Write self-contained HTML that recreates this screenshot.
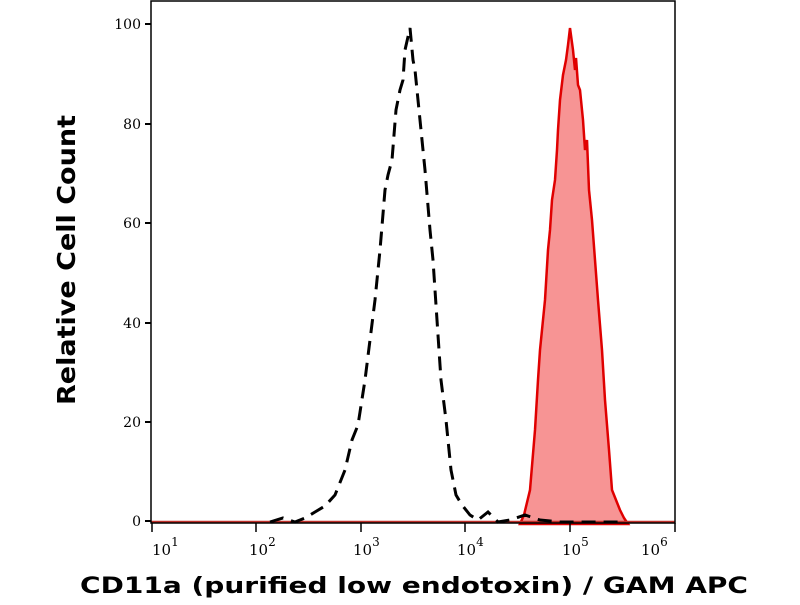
<!DOCTYPE html>
<html><head><style>body{margin:0;background:#fff}</style></head><body>
<svg width="800" height="600" xmlns="http://www.w3.org/2000/svg" font-family="DejaVu Serif, serif">
<rect width="800" height="600" fill="#fff"/>
<polygon points="520,524 524,515 530,490 535,430 538,380 540,350 545,300 548,250 550,230 552,200 555,180 557,150 558,130 560,100 563,75 566,60 568,45 570,28 573,50 575,70 576,58 578,85 580,90 583,120 585,150 587,140 589,190 592,220 595,260 598,300 602,350 605,400 609,450 612,490 616,500 620,510 624,518 628,524" fill="#f79494" stroke="#e00000" stroke-width="2.5"/>
<line x1="151" y1="522" x2="675" y2="522" stroke="#c0302a" stroke-width="2.5"/>
<polyline points="270,522 283,518 295,522 305,518 315,512 325,506 335,495 345,470 352,440 358,425 365,380 370,340 375,300 380,250 385,190 388,175 392,160 396,110 400,90 403,80 405,50 410,28 413,60 415,70 420,120 425,170 430,230 433,260 437,320 441,380 446,420 451,470 456,495 462,505 470,515 478,520 488,512 498,522 510,520 525,515 540,520 560,522 600,522 620,522" fill="none" stroke="#000" stroke-width="3" stroke-dasharray="14,8"/>
<rect x="151" y="1" width="524" height="522" fill="none" stroke="#000" stroke-width="1.5"/>
<g stroke="#000" stroke-width="2">
<line x1="145" y1="24" x2="151" y2="24"/><line x1="145" y1="124" x2="151" y2="124"/><line x1="145" y1="223" x2="151" y2="223"/><line x1="145" y1="323" x2="151" y2="323"/><line x1="145" y1="422" x2="151" y2="422"/><line x1="145" y1="521" x2="151" y2="521"/>
</g>
<g font-size="14" text-anchor="end">
<text x="141" y="29">100</text><text x="141" y="129">80</text><text x="141" y="228">60</text><text x="141" y="328">40</text><text x="141" y="427">20</text><text x="141" y="526">0</text>
</g>
<g stroke="#000" stroke-width="1.5">
<line x1="152" y1="523" x2="152" y2="532"/><line x1="256" y1="523" x2="256" y2="532"/><line x1="361" y1="523" x2="361" y2="532"/><line x1="465" y1="523" x2="465" y2="532"/><line x1="570" y1="523" x2="570" y2="532"/><line x1="675" y1="523" x2="675" y2="532"/>
</g>
<g id="minor" stroke="#000" stroke-width="1"></g>
<g font-size="15">
<text x="152" y="555">10<tspan dy="-9" font-size="12">1</tspan></text>
<text x="249" y="555">10<tspan dy="-9" font-size="12">2</tspan></text>
<text x="353" y="555">10<tspan dy="-9" font-size="12">3</tspan></text>
<text x="457" y="555">10<tspan dy="-9" font-size="12">4</tspan></text>
<text x="562" y="555">10<tspan dy="-9" font-size="12">5</tspan></text>
<text x="641" y="555">10<tspan dy="-9" font-size="12">6</tspan></text>
</g>
<text x="414" y="593" font-family="DejaVu Sans, sans-serif" font-weight="bold" font-size="22" text-anchor="middle" textLength="668" lengthAdjust="spacingAndGlyphs">CD11a (purified low endotoxin) / GAM APC</text>
<text transform="translate(75,260) rotate(-90)" font-family="DejaVu Sans, sans-serif" font-weight="bold" font-size="25" text-anchor="middle" textLength="290" lengthAdjust="spacingAndGlyphs">Relative Cell Count</text>
<script>
var g=document.getElementById('minor'),s='';
for(var d=0;d<5;d++)for(var k=2;k<10;k++){var x=152+104.6*(d+Math.log10(k));s+='<line x1="'+x+'" y1="523" x2="'+x+'" y2="528"/>';}
g.innerHTML=s;
</script>
</svg>
</body></html>
